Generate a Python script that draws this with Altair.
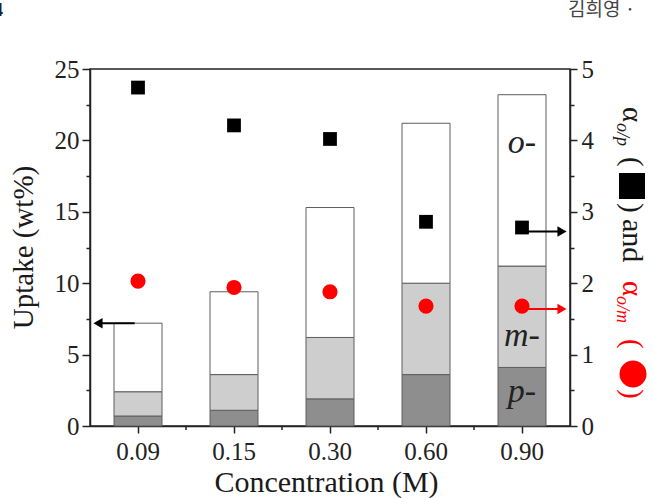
import altair as alt
import pandas as pd

# Zeolite uptake split by xylene isomer, with selectivities on the right axis
concentrations = ["0.09", "0.15", "0.30", "0.60", "0.90"]
uptake_p = [0.7, 1.1, 1.9, 3.6, 4.1]
uptake_m = [1.7, 2.5, 4.3, 6.4, 7.1]
uptake_o = [4.8, 5.8, 9.1, 11.2, 12.0]
alpha_op = [4.74, 4.21, 4.02, 2.86, 2.78]
alpha_om = [2.03, 1.94, 1.88, 1.68, 1.68]

isomers = ["p", "m", "o"]
isomer_fills = ["#8e8e8e", "#cecece", "#ffffff"]
isomer_labels = ["p-", "m-", "o-"]
isomer_label_heights = [1.7, 5.6, 19.1]

SERIF = "Liberation Serif"

rows = []
for i, c in enumerate(concentrations):
    base = 0.0
    for iso, vals in zip(isomers, [uptake_p, uptake_m, uptake_o]):
        rows.append({"conc": c, "isomer": iso, "lo": base, "hi": base + vals[i]})
        base += vals[i]
bars_df = pd.DataFrame(rows)
totals_df = pd.DataFrame({"conc": concentrations,
                          "total": [p + m + o for p, m, o in zip(uptake_p, uptake_m, uptake_o)]})
alpha_df = pd.DataFrame({"conc": concentrations, "op": alpha_op, "om": alpha_om})
labels_df = pd.DataFrame({"conc": [concentrations[-1]] * 3,
                          "label": isomer_labels, "h": isomer_label_heights})
one = pd.DataFrame({"k": [0]})

xscale = alt.Scale(domain=concentrations, paddingInner=0.5, paddingOuter=0.25)
yl = alt.Scale(domain=[0, 25])
yr = alt.Scale(domain=[0, 5])

x_axis = alt.Axis(
    labelAngle=0, tickSize=7, labelPadding=6, labelFontSize=25,
    title="Concentration (M)", titleX=236, titleY=65, titleFontSize=30,
    titleAlign="center", titleBaseline="alphabetic",
)
left_axis = alt.Axis(
    orient="left", values=[v * 2.5 for v in range(11)],
    labelExpr="datum.value % 5 === 0 ? '' + datum.value : ''",
    tickSize={"condition": {"test": "datum.value % 5 !== 0", "value": 4}, "value": 8},
    labelPadding=3, labelFontSize=25,
    title="Uptake (wt%)", titleAngle=270, titleX=-58, titleY=178,
    titleAlign="center", titleBaseline="alphabetic",
)
right_axis = alt.Axis(
    orient="right", values=[v * 0.5 for v in range(11)],
    labelExpr="datum.value % 1 === 0 ? '' + datum.value : ''",
    tickSize={"condition": {"test": "datum.value % 1 !== 0", "value": 4}, "value": 7},
    labelPadding=4, labelFontSize=25, title=None,
)


def X(**kw):
    return alt.X("conc:N", scale=xscale, sort=concentrations, axis=x_axis, **kw)


def YL(field):
    return alt.Y(field, scale=yl, axis=left_axis)


def YR(field):
    return alt.Y(field, scale=yr, axis=right_axis)


bars = alt.Chart(bars_df).mark_bar(stroke="#5e5e5e", strokeWidth=1).encode(
    x=X(),
    y=YL("hi:Q"),
    y2="lo:Q",
    fill=alt.Fill("isomer:N", scale=alt.Scale(domain=isomers, range=isomer_fills), legend=None),
)

isomer_text = alt.Chart(labels_df).mark_text(
    font=SERIF, fontSize=34, fontStyle="italic", align="center", baseline="alphabetic", color="#222"
).encode(x=X(), y=YL("h:Q"), text="label:N")

# small ticks between the categories
minor_x = alt.Chart(pd.DataFrame({"conc": concentrations[:-1]})).mark_rule(
    color="#222", strokeWidth=1.5, xOffset=48
).encode(x=X(), y=alt.value(357), y2=alt.value(361))

left_arrow = alt.Chart(totals_df.iloc[:1]).mark_rule(color="black", strokeWidth=2).encode(
    x=X(bandPosition=0.43), x2=alt.value(6), y=YL("total:Q"),
)
left_head = alt.Chart(totals_df.iloc[:1]).mark_point(
    shape="triangle-left", filled=True, color="black", size=110, opacity=1
).encode(x=alt.value(8), y=YL("total:Q"))

# page header
header_num = alt.Chart(one).mark_text(
    text="4", font=SERIF, fontSize=19, fontWeight="bold", align="right", baseline="alphabetic", color="#222"
).encode(x=alt.value(-87), y=alt.value(-53))
header_author = alt.Chart(one).mark_text(
    text="김희영 ·", font="Noto Sans CJK KR", fontSize=19, align="left", baseline="alphabetic", color="#444"
).encode(x=alt.value(478), y=alt.value(-53))


def vtext(txt, x, y, size, color="#1a1a1a", style="normal"):
    return alt.Chart(one).mark_text(
        text=txt, font=SERIF, fontSize=size, fontStyle=style, angle=90,
        align="left", baseline="alphabetic", color=color
    ).encode(x=alt.value(x), y=alt.value(y))


right_title = [
    vtext("α", 533, 38, 29),
    vtext("o/p", 527, 54, 18, style="italic"),
    vtext("(", 533, 88, 29),
    vtext(")", 533, 134, 29),
    vtext("and", 533, 150, 30),
    vtext("α", 533, 212, 29, color="#ff0000"),
    vtext("o/m", 527, 227, 18, color="#ff0000", style="italic"),
    vtext("(", 533, 270, 29, color="#ff0000"),
    vtext(")", 533, 320, 29, color="#ff0000"),
    alt.Chart(one).mark_point(shape="square", filled=True, color="black", size=676, opacity=1)
    .encode(x=alt.value(542), y=alt.value(117)),
    alt.Chart(one).mark_point(shape="circle", filled=True, color="#ff0000", size=729, opacity=1)
    .encode(x=alt.value(543), y=alt.value(305)),
]

left_group = alt.layer(bars, isomer_text, minor_x, left_arrow, left_head,
                       header_num, header_author, *right_title)

last = alpha_df.iloc[-1:]
op_arrow = alt.Chart(last).mark_rule(color="black", strokeWidth=2, yOffset=4).encode(
    x=X(), x2=alt.value(472), y=YR("op:Q"),
)
op_head = alt.Chart(last).mark_point(
    shape="triangle-right", filled=True, color="black", size=110, opacity=1, yOffset=4
).encode(x=alt.value(472), y=YR("op:Q"))
om_arrow = alt.Chart(last).mark_rule(color="#ff0000", strokeWidth=2, yOffset=3).encode(
    x=X(), x2=alt.value(472), y=YR("om:Q"),
)
om_head = alt.Chart(last).mark_point(
    shape="triangle-right", filled=True, color="#ff0000", size=110, opacity=1, yOffset=3
).encode(x=alt.value(472), y=YR("om:Q"))

squares = alt.Chart(alpha_df).mark_point(shape="square", filled=True, color="black", size=190, opacity=1).encode(
    x=X(), y=YR("op:Q"),
)
circles = alt.Chart(alpha_df).mark_point(shape="circle", filled=True, color="#ff0000", size=230, opacity=1).encode(
    x=X(), y=YR("om:Q"),
)

right_group = alt.layer(squares, op_arrow, op_head, om_arrow, om_head, circles)

chart = alt.layer(left_group, right_group).resolve_scale(y="independent").properties(
    width=480, height=357,
    autosize=alt.AutoSizeParams(type="none"),
    padding={"left": 90, "top": 69, "right": 83, "bottom": 72},
    background="white",
).configure_view(
    stroke="#222", strokeWidth=1.5
).configure_axis(
    grid=False, domainColor="#222", domainWidth=1.5, tickColor="#222", tickWidth=1.5,
    labelFont=SERIF, labelColor="#222", titleFont=SERIF, titleFontSize=29,
    titleFontWeight="normal", titleColor="#1a1a1a",
)

chart.save("out.html", embed_options={"renderer": "svg", "actions": False})
